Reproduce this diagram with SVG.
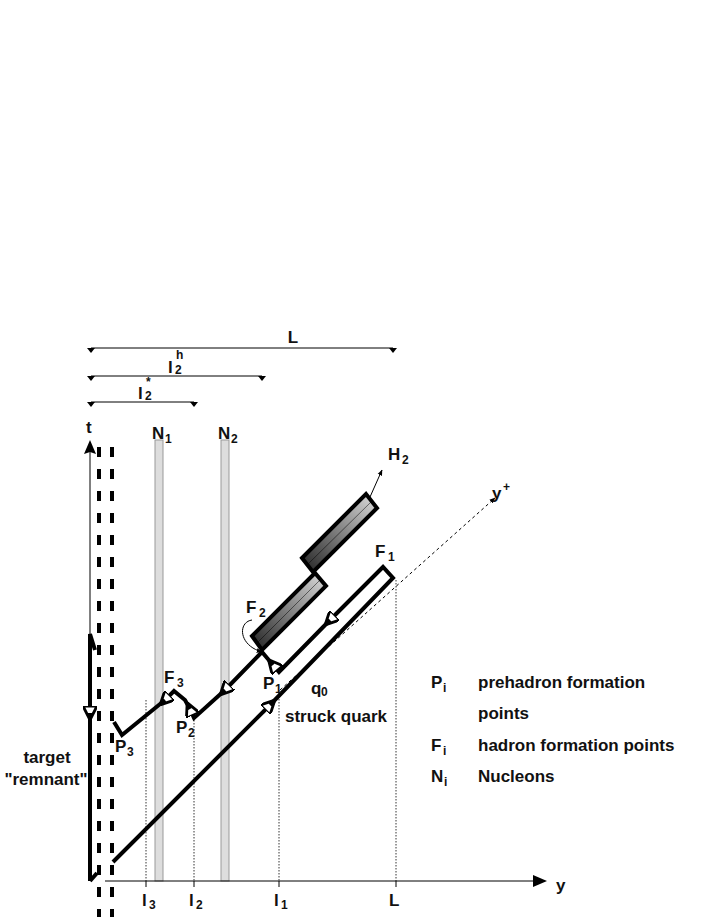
<svg xmlns="http://www.w3.org/2000/svg" width="708" height="917" viewBox="0 0 708 917">
<style>
text{font-family:"Liberation Sans",Arial,sans-serif;font-weight:bold;font-size:17px;fill:#111}
.s{font-size:12px}
.th{stroke:#000;stroke-width:4;fill:none;stroke-linejoin:miter}
.tn{stroke:#000;stroke-width:1;fill:none}
.dt{stroke:#000;stroke-width:0.8;stroke-dasharray:1.5 1.5;fill:none}
</style>
<defs>
<marker id="oa" viewBox="0 0 10 10" refX="5" refY="5" markerWidth="3.5" markerHeight="3.5" orient="auto"><path d="M0,0 L10,5 L0,10 Z" fill="#fff" stroke="#000" stroke-width="2"/></marker>
<marker id="fa" viewBox="0 0 10 10" refX="9" refY="5" markerWidth="6" markerHeight="6" orient="auto"><path d="M0,1 L10,5 L0,9 Z" fill="#000"/></marker>
<linearGradient id="g" x1="0" y1="1" x2="1" y2="0"><stop offset="0" stop-color="#222"/><stop offset="1" stop-color="#ddd"/></linearGradient>
<path id="tri" d="M-4,0 L4,0 L0,5 Z" fill="#000"/>
</defs>
<g id="dims">
<line x1="91" y1="348" x2="393" y2="348" class="tn"/><use href="#tri" x="91" y="348"/><use href="#tri" x="393" y="348"/>
<text x="293" y="343" text-anchor="middle">L</text>
<line x1="91" y1="376" x2="262" y2="376" class="tn"/><use href="#tri" x="91" y="376"/><use href="#tri" x="262" y="376"/>
<text x="168" y="373">l</text><text x="175" y="374" class="s">2</text><text x="176" y="359" class="s">h</text>
<line x1="91" y1="402" x2="194" y2="402" class="tn"/><use href="#tri" x="91" y="402"/><use href="#tri" x="194" y="402"/>
<text x="138" y="399">l</text><text x="145" y="400" class="s">2</text><text x="146" y="386" class="s">*</text>
</g>
<g id="nucleons">
<rect x="155" y="440" width="8" height="441" fill="#ddd" stroke="#999" stroke-width="1"/>
<rect x="221" y="440" width="8" height="441" fill="#ddd" stroke="#999" stroke-width="1"/>
<text x="152" y="439">N</text><text x="165" y="443" class="s">1</text>
<text x="218" y="439">N</text><text x="231" y="443" class="s">2</text>
</g>
<g id="axes">
<line x1="90" y1="881" x2="90" y2="450" class="tn" stroke-width="1.5"/>
<path d="M90,452 L84,454 L90,440 L96,454 Z" fill="#000"/>
<text x="86" y="433">t</text>
<line x1="105" y1="881" x2="540" y2="881" class="tn" stroke-width="1.5"/>
<path d="M533,875 L547,881 L533,887 Z" fill="#000"/>
<text x="556" y="891">y</text>
<line x1="99" y1="447" x2="99" y2="917" stroke="#000" stroke-width="4" stroke-dasharray="10 12"/>
<line x1="112" y1="447" x2="112" y2="917" stroke="#000" stroke-width="4" stroke-dasharray="10 12"/>
<line x1="280" y1="690" x2="495" y2="498" class="tn" stroke-dasharray="3 3" stroke-width="0.8" marker-end="url(#fa)"/>
<text x="492" y="499">y</text><text x="503" y="491" class="s">+</text>
</g>
<g id="ticks">
<line x1="146" y1="700" x2="146" y2="881" class="dt"/>
<line x1="194" y1="717" x2="194" y2="881" class="dt"/>
<line x1="279" y1="690" x2="279" y2="881" class="dt"/>
<line x1="396" y1="580" x2="396" y2="881" class="dt"/>
<line x1="146" y1="881" x2="146" y2="887" class="tn"/><line x1="194" y1="881" x2="194" y2="887" class="tn"/>
<line x1="279" y1="881" x2="279" y2="887" class="tn"/><line x1="396" y1="881" x2="396" y2="887" class="tn"/>
<text x="142" y="906">l</text><text x="149" y="909" class="s">3</text>
<text x="189" y="906">l</text><text x="196" y="909" class="s">2</text>
<text x="274" y="906">l</text><text x="281" y="909" class="s">1</text>
<text x="389" y="906">L</text>
</g>
<g id="hadrons">
<path d="M252,636 L262,650 L326,586 L315,573 Z" stroke="#000" stroke-width="4" style="fill:url(#g)"/>
<line x1="256" y1="644" x2="320" y2="580" stroke="#000" stroke-width="0.5"/>
<path d="M302,558 L313,572 L377,508 L366,494 Z" stroke="#000" stroke-width="4" style="fill:url(#g)"/>
<line x1="307" y1="565" x2="372" y2="501" stroke="#000" stroke-width="0.5"/>
<line x1="370" y1="497" x2="382" y2="470" class="tn" marker-end="url(#fa)"/>
<text x="388" y="460">H</text><text x="402" y="464" class="s">2</text>
</g>
<g id="connectors">
<path d="M113,862 L270,705" class="th" marker-end="url(#oa)"/>
<path d="M270,705 L393,578 L383,567 L330,620" class="th" marker-end="url(#oa)"/>
<path d="M330,620 L279,672 L273,665" class="th" marker-end="url(#oa)"/>
<path d="M273,665 L262,652 L225,690" class="th" marker-end="url(#oa)"/>
<path d="M225,690 L194,718 L190,709" class="th" marker-end="url(#oa)"/>
<path d="M190,709 L185,700 L174,691 L165,700" class="th" marker-end="url(#oa)"/>
<path d="M165,700 L122,735 L114,722" class="th"/>
<path d="M90,881 L97,873" class="th"/>
<path d="M95,650 L90,634 L90,713" class="th" marker-end="url(#oa)"/>
<path d="M90,713 L90,881" class="th"/>
<path d="M252,620 C238,622 238,645 262,652" class="tn" stroke-width="1.5" marker-end="url(#fa)"/>
</g>
<g id="labels">
<text x="375" y="557">F</text><text x="388" y="561" class="s">1</text>
<text x="246" y="613">F</text><text x="259" y="617" class="s">2</text>
<text x="164" y="683">F</text><text x="177" y="687" class="s">3</text>
<text x="263" y="689">P</text><text x="275" y="693" class="s">1</text>
<text x="176" y="733">P</text><text x="188" y="737" class="s">2</text>
<text x="115" y="752">P</text><text x="127" y="756" class="s">3</text>
<text x="311" y="694">q</text><text x="321" y="696" class="s">0</text>
<text x="285" y="722">struck quark</text>
<text x="47" y="763" text-anchor="middle">target</text>
<text x="46" y="785" text-anchor="middle">"remnant"</text>
<text x="431" y="688">P</text><text x="443" y="692" class="s">i</text><text x="478" y="688">prehadron formation</text>
<text x="478" y="719">points</text>
<text x="431" y="751">F</text><text x="443" y="755" class="s">i</text><text x="478" y="751">hadron formation points</text>
<text x="431" y="782">N</text><text x="444" y="786" class="s">i</text><text x="478" y="782">Nucleons</text>
</g>
</svg>
